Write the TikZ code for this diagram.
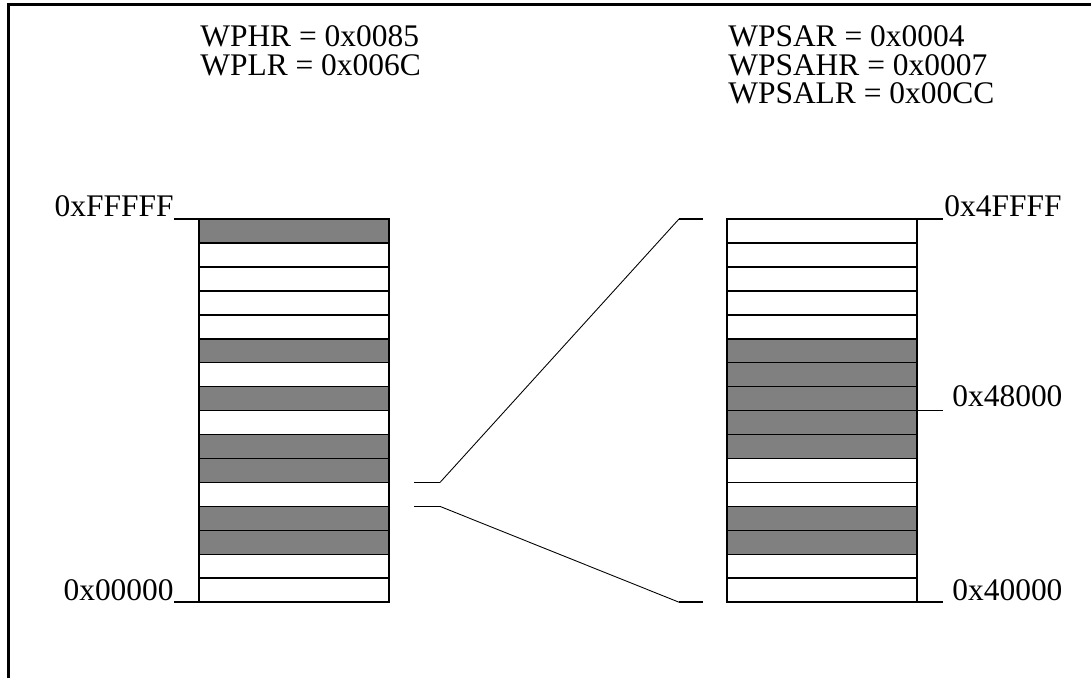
\documentclass[tikz,border=0pt]{standalone}
\usepackage{fontspec}
\setmainfont{Liberation Serif}
\usetikzlibrary{positioning}

\tikzset{
  cell/.style={draw,line width=0.9pt,minimum width=3.8cm,minimum height=0.479cm,inner sep=0pt,outer sep=0pt},
  tick/.style={line width=0.9pt},
  fan/.style={line width=0.5pt},
  lbl/.style={inner sep=0pt,font=\fontsize{17.9}{16.1}\selectfont},
}

\begin{document}
\begin{tikzpicture}
  \useasboundingbox (0,0) rectangle (21.82,13.56);
  \draw[line width=1.7pt] (0.17,0) -- (0.17,13.47) -- (21.82,13.47);

  \node[lbl,anchor=base west] (wphr) at (4.0,12.62) {WPHR = 0x0085};
  \node[lbl,anchor=base west] (wplr) at ([yshift=-0.566cm]wphr.base west) {WPLR = 0x006C};
  \node[lbl,anchor=base west] (wpsar) at (14.56,12.62) {WPSAR = 0x0004};
  \node[lbl,anchor=base west] (wpsahr) at ([yshift=-0.566cm]wpsar.base west) {WPSAHR = 0x0007};
  \node[lbl,anchor=base west] (wpsalr) at ([yshift=-0.566cm]wpsahr.base west) {WPSALR = 0x00CC};

  \foreach \c [count=\i] in {gray,white,white,white,white,gray,white,gray,white,gray,gray,white,gray,gray,white,white}
    \node[cell,fill=\c,anchor=north west] (l\i) at (3.98,{9.18-0.479*(\i-1)}) {};
  \foreach \c [count=\i] in {white,white,white,white,white,gray,gray,gray,gray,gray,white,white,gray,gray,white,white}
    \node[cell,fill=\c,anchor=north west] (r\i) at (14.54,{9.18-0.479*(\i-1)}) {};

  \coordinate (ftop) at ([xshift=-0.5cm]l1.north west);
  \coordinate (fbot) at ([xshift=-0.5cm]l16.south west);
  \draw[tick] (l1.north west) -- (ftop);
  \draw[tick] (l16.south west) -- (fbot);
  \node[lbl,anchor=base east] (fffff) at ([yshift=0.05cm]ftop) {0xFFFFF};
  \node[lbl,anchor=base east] (zero) at ([yshift=0.04cm]fbot) {0x00000};

  \coordinate (stop) at ([xshift=0.52cm]r1.north east);
  \coordinate (smid) at ([xshift=0.52cm]r8.south east);
  \coordinate (sbot) at ([xshift=0.52cm]r16.south east);
  \draw[tick] (r1.north east) -- (stop);
  \draw[tick] (r8.south east) -- (smid);
  \draw[tick] (r16.south east) -- (sbot);
  \node[lbl,anchor=base west] (s4ffff) at ([xshift=0.02cm,yshift=0.04cm]stop) {0x4FFFF};
  \node[lbl,anchor=base west] (s48000) at ([xshift=0.18cm,yshift=0.08cm]smid) {0x48000};
  \node[lbl,anchor=base west] (s40000) at ([xshift=0.18cm,yshift=0.04cm]sbot) {0x40000};

  \coordinate (a1) at ([xshift=0.5cm]l12.north east);
  \coordinate (a2) at ([xshift=1.02cm]l12.north east);
  \coordinate (a3) at ([xshift=0.5cm]l12.south east);
  \coordinate (a4) at ([xshift=1.02cm]l12.south east);
  \coordinate (b1) at ([xshift=-0.96cm]r1.north west);
  \coordinate (b2) at ([xshift=-0.48cm]r1.north west);
  \coordinate (b3) at ([xshift=-0.96cm]r16.south west);
  \coordinate (b4) at ([xshift=-0.48cm]r16.south west);
  \draw[tick] (a1) -- (a2);
  \draw[tick] (a3) -- (a4);
  \draw[fan] (a2) -- (b1);
  \draw[fan] (a4) -- (b3);
  \draw[tick] (b1) -- (b2);
  \draw[tick] (b3) -- (b4);
\end{tikzpicture}
\end{document}
